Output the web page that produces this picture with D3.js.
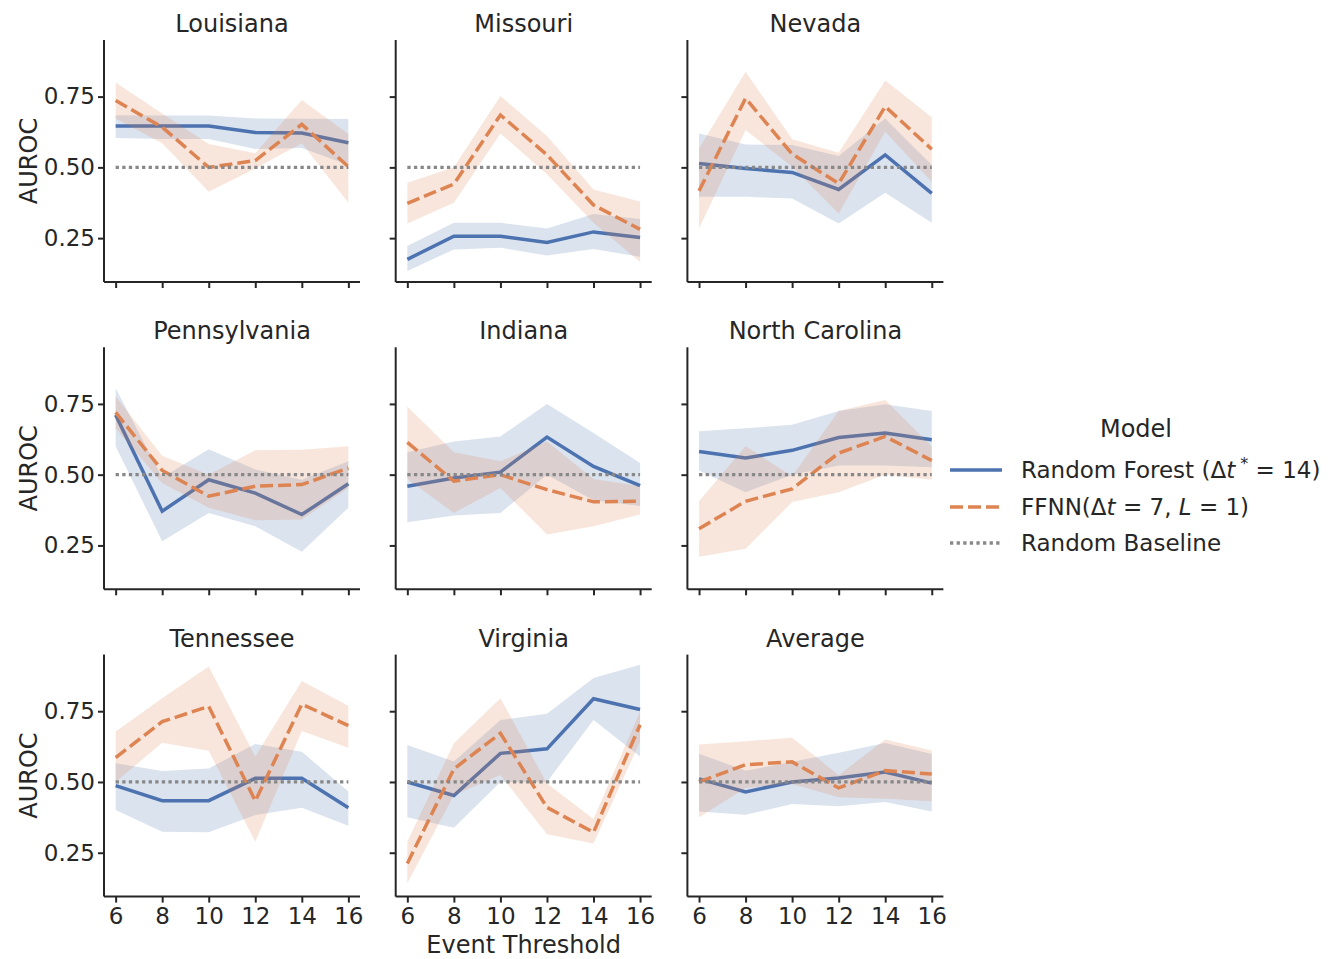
<!DOCTYPE html>
<html>
<head>
<meta charset="utf-8">
<script src="https://cdn.jsdelivr.net/npm/d3@7"></script>
<style>
  body { margin: 0; background: #fff; }
  svg text { font-family: "DejaVu Sans", sans-serif; fill: #262626; }
</style>
</head>
<body>
<svg id="chart"></svg>
<script>
// event thresholds on the x axis
const thresholds = [6, 8, 10, 12, 14, 16];
const states = ['Louisiana', 'Missouri', 'Nevada', 'Pennsylvania', 'Indiana', 'North Carolina', 'Tennessee', 'Virginia', 'Average'];
const yTicks = [0.25, 0.50, 0.75];
const baseline = 0.5;

// Random Forest mean AUROC + band, one row per state (same order as states)
const rfMean = [
  [0.646, 0.646, 0.646, 0.623, 0.621, 0.587],
  [0.175, 0.257, 0.257, 0.235, 0.272, 0.252],
  [0.514, 0.496, 0.482, 0.422, 0.544, 0.408],
  [0.711, 0.371, 0.482, 0.435, 0.359, 0.468],
  [0.459, 0.488, 0.509, 0.633, 0.529, 0.461],
  [0.582, 0.559, 0.586, 0.631, 0.647, 0.623],
  [0.487, 0.434, 0.434, 0.513, 0.513, 0.409],
  [0.500, 0.452, 0.601, 0.617, 0.794, 0.756],
  [0.511, 0.465, 0.500, 0.514, 0.535, 0.496]
];
const rfLow = [
  [0.604, 0.600, 0.600, 0.565, 0.568, 0.508],
  [0.134, 0.210, 0.216, 0.189, 0.212, 0.184],
  [0.396, 0.396, 0.390, 0.302, 0.410, 0.304],
  [0.600, 0.265, 0.365, 0.318, 0.228, 0.383],
  [0.332, 0.356, 0.365, 0.500, 0.410, 0.389],
  [0.515, 0.438, 0.500, 0.532, 0.532, 0.526],
  [0.401, 0.324, 0.322, 0.383, 0.409, 0.345],
  [0.375, 0.338, 0.500, 0.500, 0.719, 0.590],
  [0.396, 0.384, 0.422, 0.414, 0.429, 0.396]
];
const rfHigh = [
  [0.684, 0.683, 0.683, 0.673, 0.672, 0.671],
  [0.222, 0.304, 0.304, 0.284, 0.335, 0.318],
  [0.620, 0.581, 0.579, 0.540, 0.673, 0.508],
  [0.805, 0.490, 0.590, 0.518, 0.482, 0.547],
  [0.579, 0.617, 0.635, 0.750, 0.647, 0.541],
  [0.653, 0.664, 0.676, 0.725, 0.749, 0.725],
  [0.566, 0.539, 0.548, 0.634, 0.607, 0.466],
  [0.631, 0.572, 0.719, 0.741, 0.867, 0.914],
  [0.600, 0.540, 0.571, 0.603, 0.638, 0.599]
];

// FFNN mean AUROC + band
const nnMean = [
  [0.736, 0.642, 0.500, 0.524, 0.652, 0.502],
  [0.373, 0.441, 0.685, 0.544, 0.367, 0.281],
  [0.417, 0.744, 0.547, 0.443, 0.715, 0.564],
  [0.720, 0.515, 0.424, 0.459, 0.465, 0.523],
  [0.614, 0.477, 0.500, 0.447, 0.404, 0.406],
  [0.309, 0.406, 0.450, 0.576, 0.635, 0.550],
  [0.586, 0.713, 0.767, 0.433, 0.775, 0.699],
  [0.212, 0.546, 0.672, 0.410, 0.322, 0.702],
  [0.500, 0.561, 0.571, 0.479, 0.540, 0.528]
];
const nnLow = [
  [0.673, 0.585, 0.414, 0.496, 0.585, 0.375],
  [0.302, 0.375, 0.620, 0.476, 0.304, 0.166],
  [0.284, 0.632, 0.502, 0.337, 0.626, 0.449],
  [0.664, 0.471, 0.383, 0.339, 0.342, 0.453],
  [0.485, 0.365, 0.453, 0.289, 0.318, 0.359],
  [0.210, 0.238, 0.403, 0.438, 0.500, 0.482],
  [0.500, 0.639, 0.610, 0.289, 0.680, 0.621],
  [0.142, 0.454, 0.525, 0.315, 0.283, 0.643],
  [0.375, 0.479, 0.493, 0.446, 0.441, 0.432]
];
const nnHigh = [
  [0.800, 0.690, 0.583, 0.550, 0.738, 0.618],
  [0.446, 0.500, 0.752, 0.611, 0.422, 0.379],
  [0.567, 0.838, 0.599, 0.552, 0.807, 0.677],
  [0.776, 0.567, 0.500, 0.586, 0.588, 0.600],
  [0.741, 0.579, 0.547, 0.617, 0.485, 0.459],
  [0.406, 0.600, 0.494, 0.725, 0.764, 0.600],
  [0.678, 0.796, 0.908, 0.590, 0.857, 0.769],
  [0.289, 0.637, 0.796, 0.495, 0.369, 0.749],
  [0.632, 0.644, 0.656, 0.524, 0.650, 0.611]
];

const blue = '#4c72b0', orange = '#dd8452', grey = '#888888', ink = '#262626';

const W = 1336, H = 959;
const left0 = 104, top0 = 40, panelW = 256, panelH = 242;
const colStep = 291.7, rowStep = 307.3;

const svg = d3.select('#chart').attr('width', W).attr('height', H);

const x = d3.scaleLinear().domain([5.5, 16.5]).range([0, panelW]);
const y = d3.scaleLinear().domain([0.095, 0.95]).range([panelH, 0]);

const line = d3.line().x((d, i) => x(thresholds[i])).y(d => y(d));
const band = d3.area()
  .x(d => x(d.t))
  .y0(d => y(d.lo))
  .y1(d => y(d.hi));

function bandData(lo, hi) {
  return thresholds.map((t, i) => ({ t: t, lo: lo[i], hi: hi[i] }));
}

states.forEach((name, k) => {
  let col = k % 3, row = Math.floor(k / 3);
  let g = svg.append('g')
    .attr('transform', `translate(${left0 + col * colStep},${top0 + row * rowStep})`);

  // bands + lines (rf first, then ffnn)
  g.append('path').datum(bandData(rfLow[k], rfHigh[k]))
    .attr('d', band).attr('fill', blue).attr('fill-opacity', 0.2);
  g.append('path').datum(rfMean[k])
    .attr('d', line).attr('fill', 'none').attr('stroke', blue).attr('stroke-width', 3.5);

  g.append('path').datum(bandData(nnLow[k], nnHigh[k]))
    .attr('d', band).attr('fill', orange).attr('fill-opacity', 0.2);
  g.append('path').datum(nnMean[k])
    .attr('d', line).attr('fill', 'none').attr('stroke', orange).attr('stroke-width', 3.5)
    .attr('stroke-dasharray', '13,5');

  // random baseline
  g.append('line')
    .attr('x1', x(thresholds[0])).attr('x2', x(thresholds[thresholds.length - 1]))
    .attr('y1', y(baseline)).attr('y2', y(baseline))
    .attr('stroke', grey).attr('stroke-width', 3.3).attr('stroke-dasharray', '3.3,3.3');

  // axes
  let xAxis = d3.axisBottom(x).tickValues(thresholds).tickSize(6).tickPadding(5)
    .tickFormat(row === 2 ? d3.format('d') : '');
  let yAxis = d3.axisLeft(y).tickValues(yTicks).tickSize(6).tickPadding(3)
    .tickFormat(col === 0 ? d3.format('.2f') : '');

  let gx = g.append('g').attr('transform', `translate(0,${panelH})`).call(xAxis);
  let gy = g.append('g').call(yAxis);
  [gx, gy].forEach(a => {
    a.select('.domain').attr('stroke', ink).attr('stroke-width', 2);
    a.selectAll('.tick line').attr('stroke', ink).attr('stroke-width', 2);
    a.selectAll('.tick text').attr('font-size', 23).style('fill', ink)
      .attr('font-family', null);
  });
  // despine: drop the outer-tick caps
  gx.select('.domain').attr('d', `M0,0H${panelW}`);
  gy.select('.domain').attr('d', `M0,${panelH}V0`);

  g.append('text')
    .attr('x', panelW / 2).attr('y', -8)
    .attr('text-anchor', 'middle').attr('font-size', 24)
    .text(name);

  if (col === 0) {
    g.append('text')
      .attr('transform', `translate(${37 - left0},${panelH / 2}) rotate(-90)`)
      .attr('text-anchor', 'middle').attr('font-size', 24)
      .text('AUROC');
  }
});

// x label under middle column
svg.append('text')
  .attr('x', left0 + colStep + panelW / 2).attr('y', 953)
  .attr('text-anchor', 'middle').attr('font-size', 24)
  .text('Event Threshold');

// legend
const leg = svg.append('g');
leg.append('text').attr('x', 1136).attr('y', 437)
  .attr('text-anchor', 'middle').attr('font-size', 24).text('Model');

const legItems = [
  { color: blue, dash: null, y: 470 },
  { color: orange, dash: '13,5', y: 507 },
  { color: grey, dash: '3.3,3.3', y: 543 }
];
legItems.forEach(it => {
  leg.append('line')
    .attr('x1', 950).attr('x2', 1002).attr('y1', it.y).attr('y2', it.y)
    .attr('stroke', it.color).attr('stroke-width', 3.3)
    .attr('stroke-dasharray', it.dash);
});

let t1 = leg.append('text').attr('x', 1021).attr('y', 478).attr('font-size', 23);
t1.append('tspan').text('Random Forest (Δ');
t1.append('tspan').attr('font-style', 'italic').text('t');
t1.append('tspan').attr('dy', -9).attr('font-size', 16).text(' *');
t1.append('tspan').attr('dy', 9).text(' = 14)');

let t2 = leg.append('text').attr('x', 1021).attr('y', 515).attr('font-size', 23);
t2.append('tspan').text('FFNN(Δ');
t2.append('tspan').attr('font-style', 'italic').text('t');
t2.append('tspan').text(' = 7, ');
t2.append('tspan').attr('font-style', 'italic').text('L');
t2.append('tspan').text(' = 1)');

leg.append('text').attr('x', 1021).attr('y', 551).attr('font-size', 23).text('Random Baseline');
</script>
</body>
</html>
